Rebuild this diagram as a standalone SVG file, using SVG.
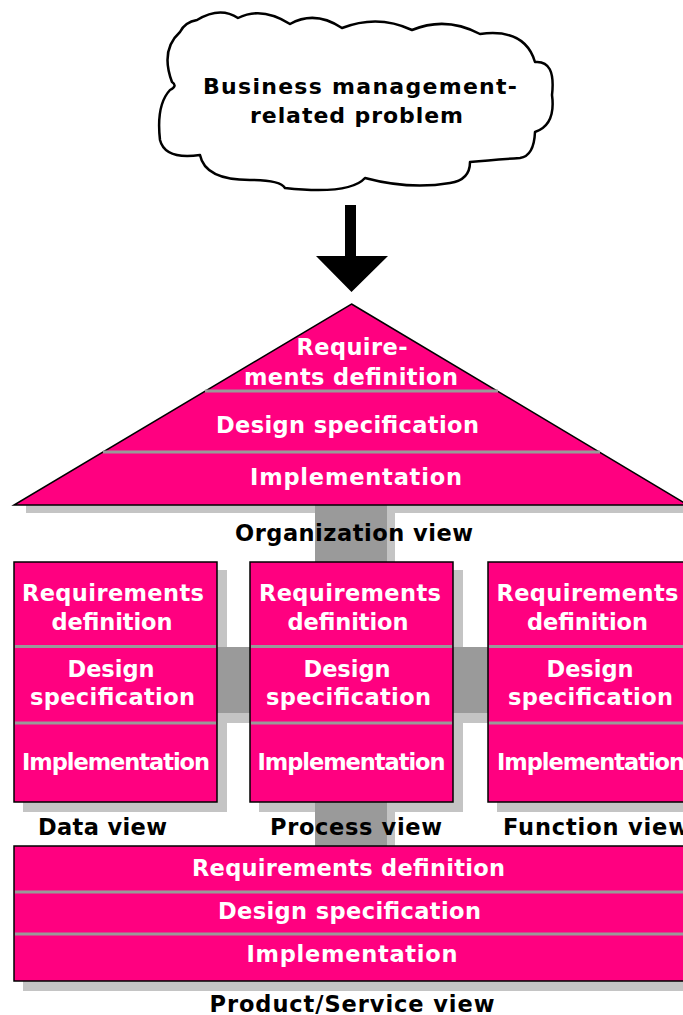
<svg xmlns="http://www.w3.org/2000/svg" width="683" height="1015" viewBox="0 0 683 1015">
  <style>
    .pink { fill: #ff0080; stroke: #000; stroke-width: 1.5; }
    .sep { stroke: #999; stroke-width: 3; }
    .shadow { fill: #c4c4c4; }
    .bar { fill: #9a9a9a; }
    .w { fill: #fff; font-family: "DejaVu Sans", Verdana, sans-serif; font-weight: bold; font-size: 22.5px; text-anchor: middle; }
    .b { fill: #000; font-family: "DejaVu Sans", Verdana, sans-serif; font-weight: bold; font-size: 22.5px; }
    .c { fill: #000; font-family: "DejaVu Sans", Verdana, sans-serif; font-weight: bold; font-size: 22px; text-anchor: middle; }
  </style>
  <rect width="683" height="1015" fill="#fff"/>

  <!-- problem cloud -->
  <g id="problem">
    <path d="M 197 20 Q 220 6 238 18 Q 262 6 290 24 Q 315 10 342 28 Q 378 14 412 30 Q 446 16 480 34 Q 525 28 535 62 Q 556 60 552 95 Q 556 125 535 132 Q 534 156 520 158 Q 490 160 470 162 Q 470 180 450 183 Q 410 190 365 178 Q 350 195 285 188 Q 280 180 250 180 Q 205 180 200 155 Q 165 160 160 140 Q 156 105 170 90 Q 178 86 172 82 Q 160 50 180 32 Q 185 22 197 20 Z" fill="#fff" stroke="#000" stroke-width="2.5" stroke-linejoin="round"/>
    <text class="c" x="360" y="94" textLength="314">Business management-</text>
    <text class="c" x="356.5" y="123" textLength="213">related problem</text>
  </g>

  <!-- connectors: arrow and grey linking bars -->
  <g id="connectors">
    <path d="M 345 205 H 356 V 256 H 388 L 351.5 292 L 316 256 H 345 Z" fill="#000"/>
    <!-- shadows -->
    <rect class="shadow" x="26" y="505" width="657" height="8"/>
    <rect class="shadow" x="387" y="513" width="8" height="333"/>
    <rect class="shadow" x="226" y="713" width="262" height="10"/>
    <rect class="shadow" x="23" y="570" width="204" height="242"/>
    <rect class="shadow" x="259" y="570" width="204" height="242"/>
    <rect class="shadow" x="497" y="570" width="186" height="242"/>
    <rect class="shadow" x="23" y="855" width="660" height="136"/>
    <!-- bars -->
    <rect class="bar" x="315" y="505" width="72" height="341"/>
    <rect class="bar" x="217" y="647" width="271" height="66"/>
  </g>

  <!-- organization view -->
  <g id="organization">
    <polygon class="pink" points="351.5,304 688,505 14,505"/>
    <line class="sep" x1="205" y1="391" x2="498" y2="391"/>
    <line class="sep" x1="103" y1="452" x2="600" y2="452"/>
    <text class="w" x="352" y="355" textLength="111">Require-</text>
    <text class="w" x="351" y="385" textLength="214">ments definition</text>
    <text class="w" x="347.5" y="433" textLength="263">Design specification</text>
    <text class="w" x="356" y="485" textLength="212">Implementation</text>
    <text class="b" x="354" y="541" text-anchor="middle" textLength="238">Organization view</text>
  </g>

  <!-- data view -->
  <g id="data">
    <rect class="pink" x="14" y="562" width="203" height="240"/>
    <line class="sep" x1="15" y1="646.5" x2="216" y2="646.5"/>
    <line class="sep" x1="15" y1="723" x2="216" y2="723"/>
    <text class="w" x="113" y="601" textLength="182">Requirements</text>
    <text class="w" x="112" y="630" textLength="121">definition</text>
    <text class="w" x="111" y="677" textLength="87">Design</text>
    <text class="w" x="112.5" y="705" textLength="165">specification</text>
    <text class="w" x="116" y="770" textLength="188">Implementation</text>
    <text class="b" x="38" y="835" textLength="129">Data view</text>
  </g>

  <!-- process view -->
  <g id="process">
    <rect class="pink" x="250" y="562" width="203" height="240"/>
    <line class="sep" x1="251" y1="646.5" x2="452" y2="646.5"/>
    <line class="sep" x1="251" y1="723" x2="452" y2="723"/>
    <text class="w" x="350" y="601" textLength="182">Requirements</text>
    <text class="w" x="348" y="630" textLength="121">definition</text>
    <text class="w" x="347" y="677" textLength="87">Design</text>
    <text class="w" x="348.5" y="705" textLength="165">specification</text>
    <text class="w" x="351.5" y="770" textLength="188">Implementation</text>
    <text class="b" x="270" y="835" textLength="172">Process view</text>
  </g>

  <!-- function view -->
  <g id="function">
    <rect class="pink" x="488" y="562" width="203" height="240"/>
    <line class="sep" x1="489" y1="646.5" x2="690" y2="646.5"/>
    <line class="sep" x1="489" y1="723" x2="690" y2="723"/>
    <text class="w" x="587.5" y="601" textLength="182">Requirements</text>
    <text class="w" x="587.5" y="630" textLength="121">definition</text>
    <text class="w" x="590" y="677" textLength="87">Design</text>
    <text class="w" x="590.5" y="705" textLength="165">specification</text>
    <text class="w" x="591" y="770" textLength="188">Implementation</text>
    <text class="b" x="503" y="835" textLength="186">Function view</text>
  </g>

  <!-- product/service view -->
  <g id="product">
    <rect class="pink" x="14" y="846" width="680" height="135"/>
    <line class="sep" x1="15" y1="892" x2="690" y2="892"/>
    <line class="sep" x1="15" y1="934" x2="690" y2="934"/>
    <text class="w" x="348.5" y="876" textLength="313">Requirements definition</text>
    <text class="w" x="349.5" y="919" textLength="263">Design specification</text>
    <text class="w" x="352" y="962" textLength="211">Implementation</text>
    <text class="b" x="352" y="1012" text-anchor="middle" textLength="285">Product/Service view</text>
  </g>
</svg>
